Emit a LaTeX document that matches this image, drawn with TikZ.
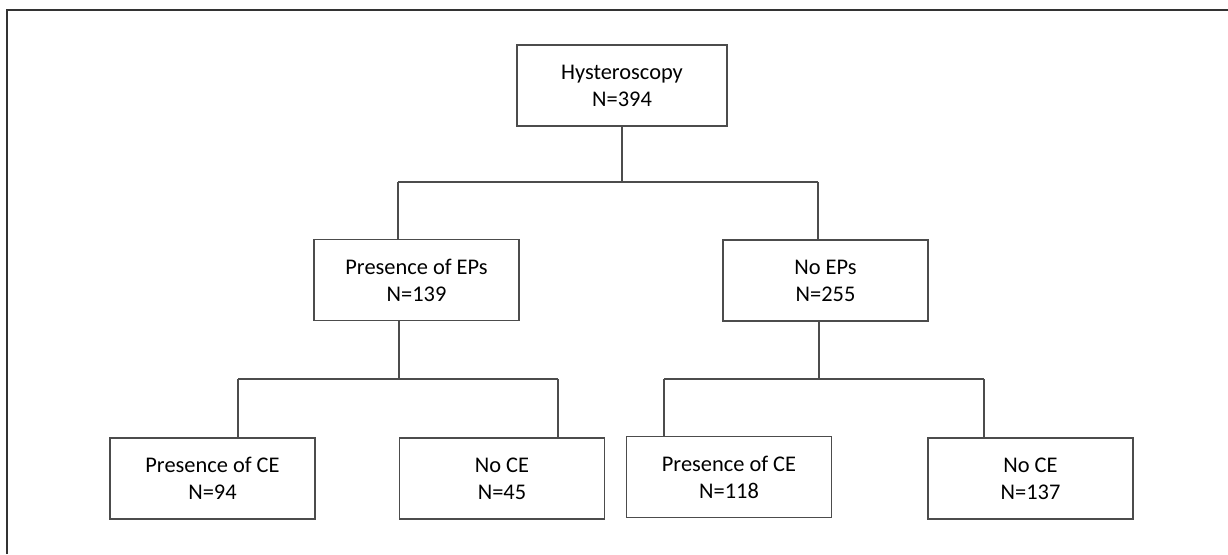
\documentclass[tikz,border=0pt]{standalone}
\usepackage{fontspec}
\setmainfont{Carlito}
\begin{document}
\begin{tikzpicture}[x=1pt,y=1pt,
  box/.style={draw=black!70, line width=1.3pt, rectangle, minimum width=205pt, minimum height=81pt, inner sep=0pt, align=center, font=\fontsize{22.4}{27}\selectfont, text=black},
  conn/.style={draw=black!70, line width=1.3pt},
  frame/.style={draw=black!80, line width=2pt}]
\useasboundingbox (0,0) rectangle (1228,-554);
\coordinate (fb) at (7,-554);
\coordinate (fc) at (7,-10);
\coordinate (fr) at (1228,-10);
\draw[frame] (fb) -- (fc) -- (fr);

\node[box, minimum width=210pt] (hyst) at (622,-85.5) {Hysteroscopy\\N=394};
\node[box] (pep) at (416.5,-280) {Presence of EPs\\N=139};
\node[box] (nep) at (825.5,-280.5) {No EPs\\N=255};
\node[box] (ce1) at (212.5,-478.5) {Presence of CE\\N=94};
\node[box] (nce1) at (502,-478.5) {No CE\\N=45};
\node[box] (ce2) at (729,-477) {Presence of CE\\N=118};
\node[box] (nce2) at (1030.5,-478.5) {No CE\\N=137};

\coordinate (j1) at (622,-182);
\coordinate (j1L) at (398,-182);
\coordinate (j1R) at (818,-182);
\draw[conn] (hyst.south) -- (j1);
\draw[conn] (j1L) -- (j1R);
\draw[conn] (j1L) -- (j1L |- pep.north);
\draw[conn] (j1R) -- (j1R |- nep.north);

\coordinate (j2) at (399,-379);
\coordinate (j2L) at (238,-379);
\coordinate (j2R) at (558,-379);
\draw[conn] (j2 |- pep.south) -- (j2);
\draw[conn] (j2L) -- (j2R);
\draw[conn] (j2L) -- (j2L |- ce1.north);
\draw[conn] (j2R) -- (j2R |- nce1.north);

\coordinate (j3) at (819,-379);
\coordinate (j3L) at (664,-379);
\coordinate (j3R) at (984,-379);
\draw[conn] (j3 |- nep.south) -- (j3);
\draw[conn] (j3L) -- (j3R);
\draw[conn] (j3L) -- (j3L |- ce2.north);
\draw[conn] (j3R) -- (j3R |- nce2.north);
\end{tikzpicture}
\end{document}
